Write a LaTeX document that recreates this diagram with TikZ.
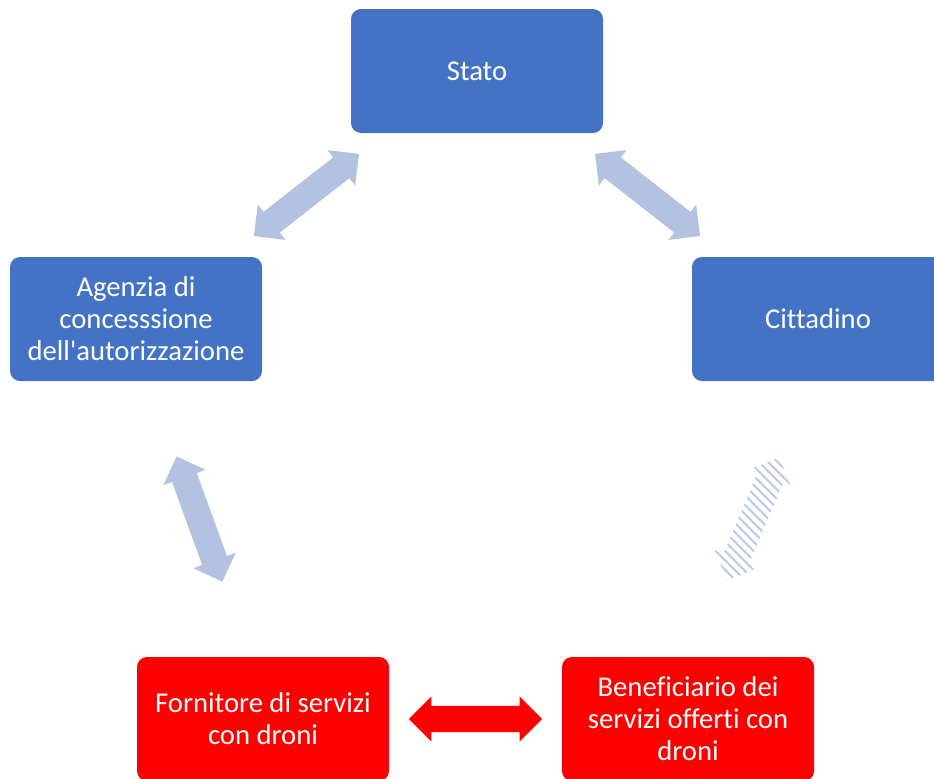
\documentclass[tikz,border=0pt]{standalone}
\usepackage{fontspec}
\setmainfont{Carlito}[Ligatures={NoCommon,NoContextual}]
\usetikzlibrary{shapes.arrows,patterns.meta}

\definecolor{boxblue}{RGB}{68,114,196}
\definecolor{boxred}{RGB}{255,0,0}
\definecolor{linkblue}{RGB}{180,194,226}

\tikzset{every picture/.style={line width=0.75pt}}

\begin{document}
\begin{tikzpicture}[x=0.75pt,y=0.75pt,yscale=-1,xscale=1,
  actor/.style={rounded corners=7.5pt, minimum width=189pt, minimum height=93pt,
    align=center, text=white, inner sep=0pt, font=\fontsize{21.5}{24}\selectfont},
  bluebox/.style={actor, fill=boxblue},
  redbox/.style={actor, fill=boxred},
  link/.style={double arrow, double arrow head extend=7pt, minimum height=100pt,
    inner xsep=0pt, inner ysep=9.5pt, midway, draw=none},
  bluelink/.style={link, fill=linkblue},
  hatchlink/.style={link, pattern={Lines[angle=-45,distance=5pt,line width=1.6pt]}, pattern color=linkblue!85!white},
  redlink/.style={link, fill=boxred}]
\useasboundingbox (0,0) rectangle (934,778);

% Boxes
\node [bluebox] (stato) at (477,71) {Stato};
\node [bluebox] (agenzia) at (136,319) {Agenzia di\\concesssione\\dell\textquotesingle autorizzazione};
\node [bluebox] (cittadino) at (818,319) {Cittadino};
\node [redbox] (fornitore) at (263,719) {Fornitore di servizi\\con droni};
\node [redbox] (beneficiario) at (688,719) {Beneficiario dei\\servizi offerti con\\droni};

% Double arrows
\path (stato) -- node [bluelink, rotate=38] {} (agenzia);
\path (stato) -- node [bluelink, rotate=-38] {} (cittadino);
\path (agenzia) -- node [bluelink, rotate=-70] {} (fornitore);
\path (cittadino) -- node [hatchlink, rotate=67] {} (beneficiario);
\path (fornitore) -- node [redlink] {} (beneficiario);

\end{tikzpicture}
\end{document}
